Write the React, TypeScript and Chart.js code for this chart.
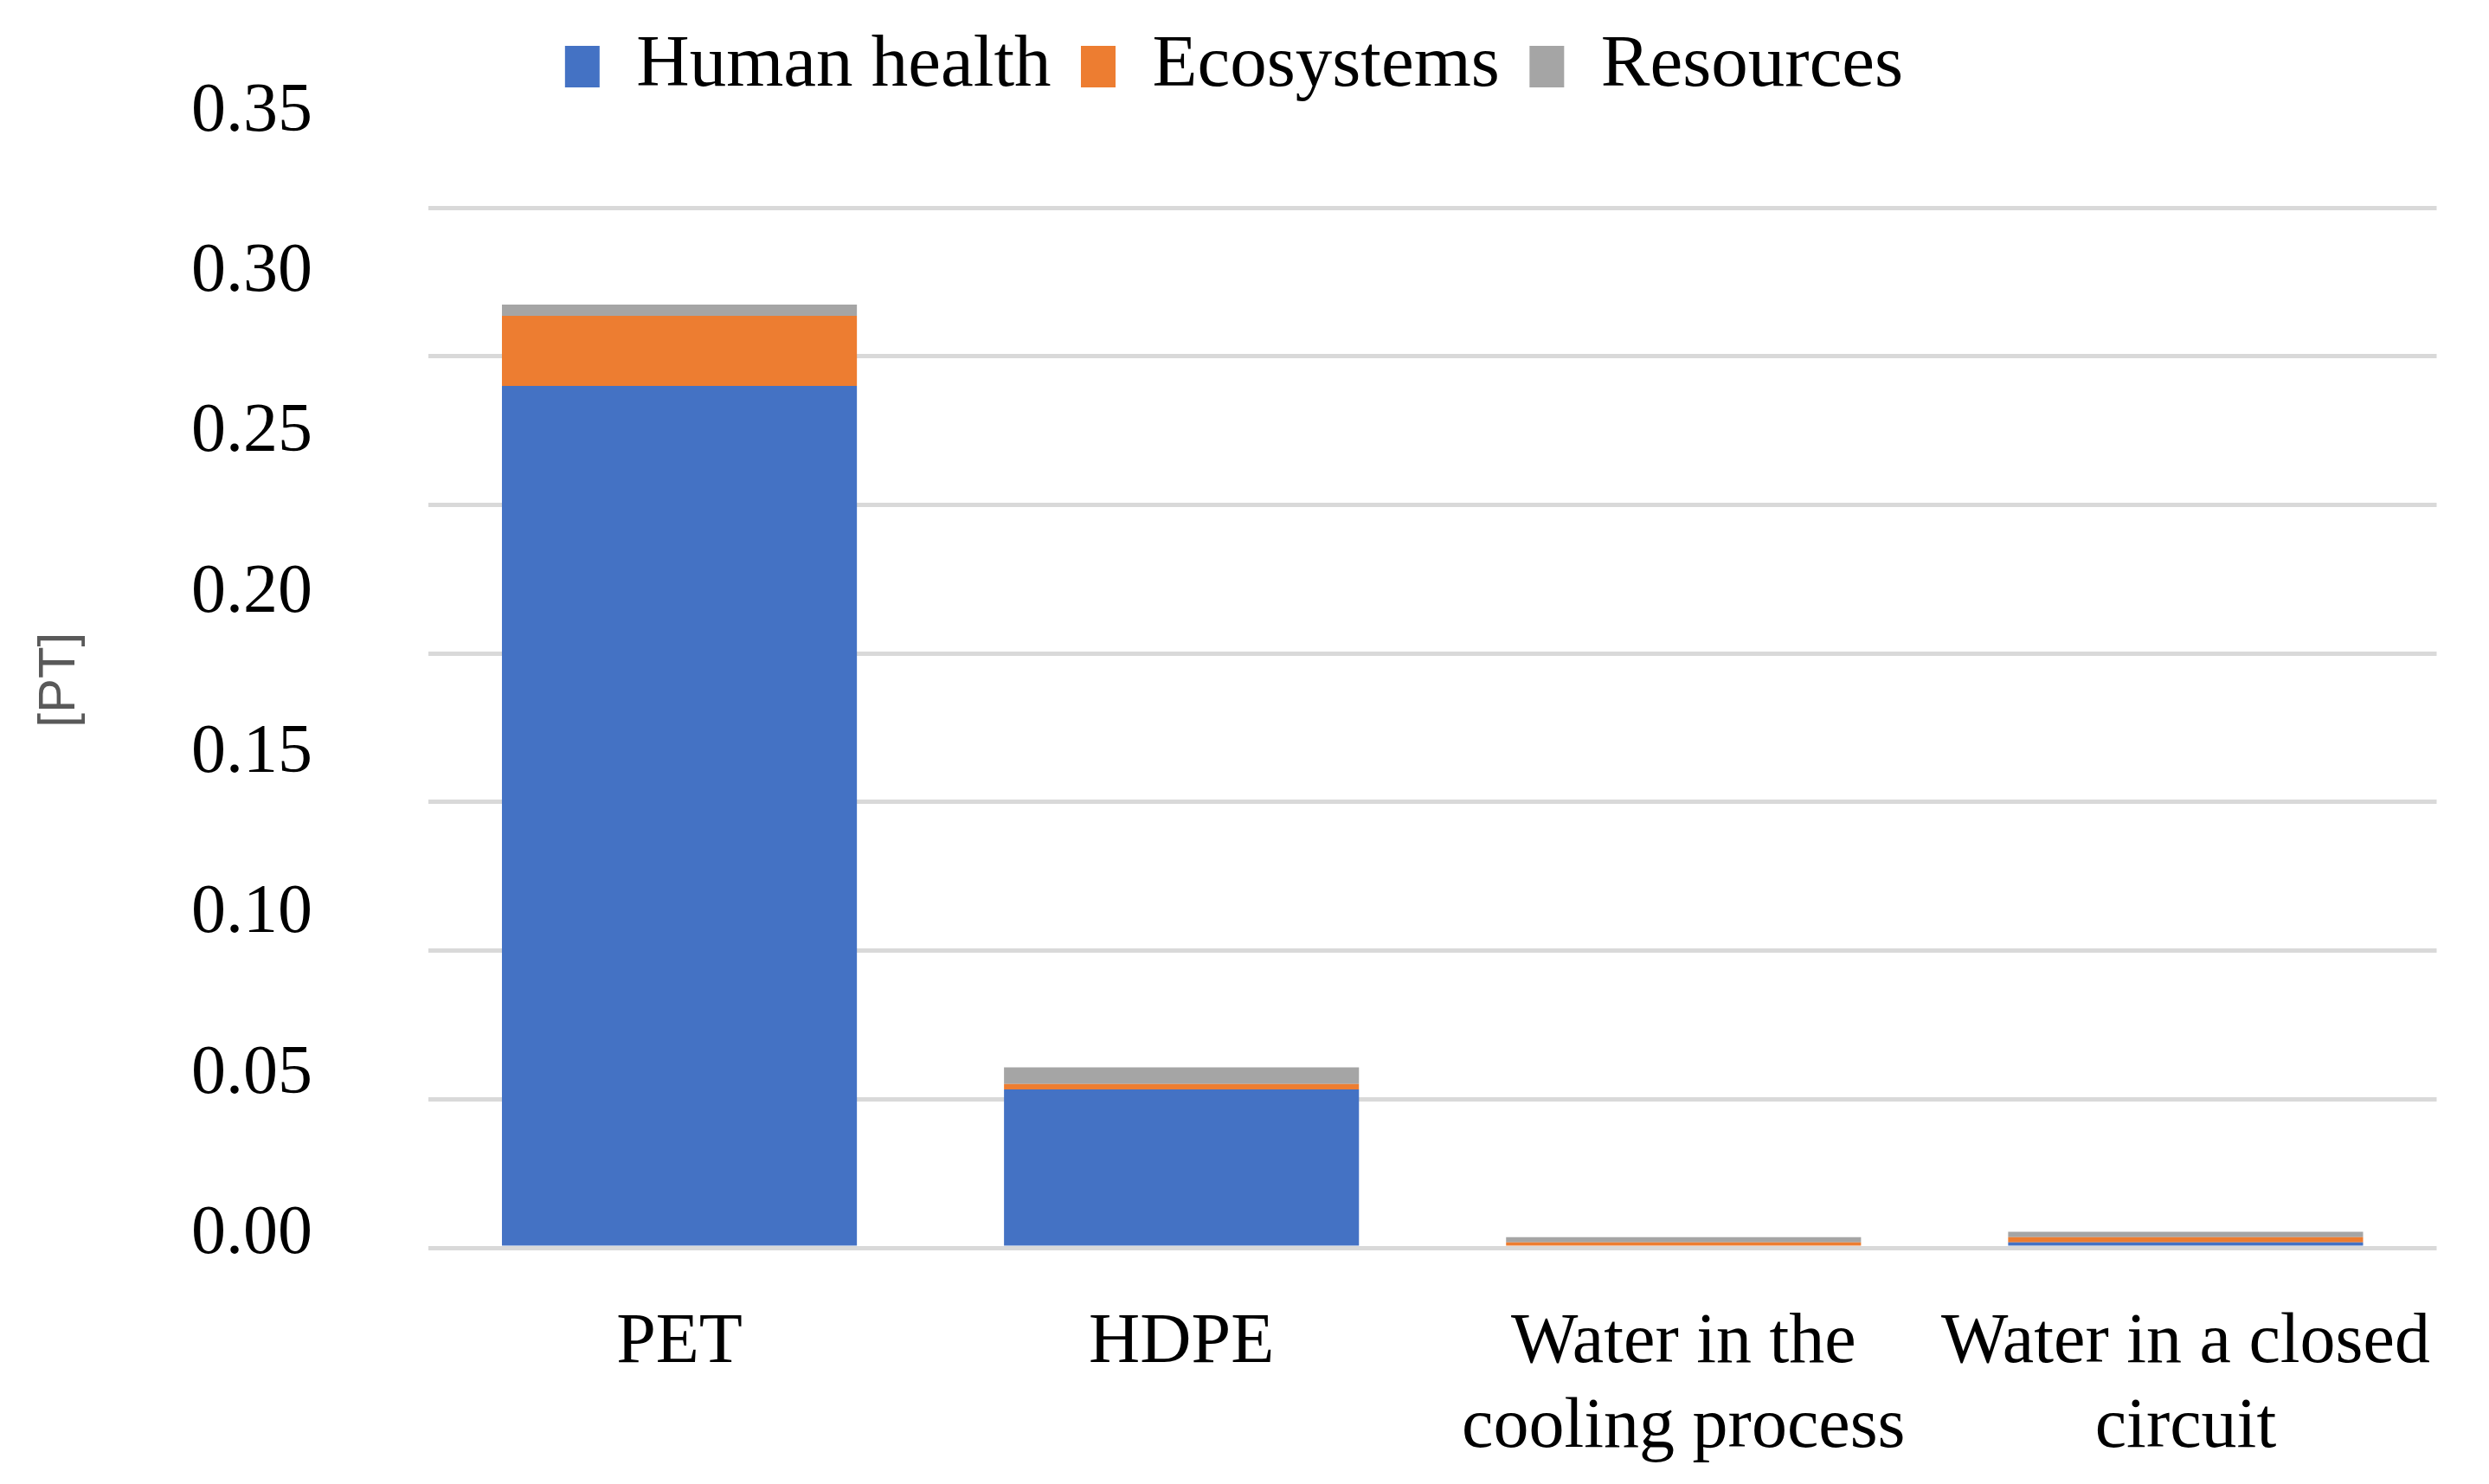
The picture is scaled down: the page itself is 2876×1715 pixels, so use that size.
import React, { useEffect, useRef } from "react";
import { Chart, registerables } from "chart.js";

Chart.register(...registerables);

// ---- data ----
const CATEGORIES: (string | string[])[] = [
  "PET",
  "HDPE",
  ["Water in the", "cooling process"],
  ["Water in a closed", "circuit"],
];
const SERIES_NAMES = ["Human health", "Ecosystems", "Resources"];
const HUMAN_HEALTH = [0.29, 0.0533, 0, 0.0018];
const ECOSYSTEMS = [0.0236, 0.0018, 0.0018, 0.0018];
const RESOURCES = [0.0038, 0.0056, 0.0018, 0.0018];
const TICK_VALUES = [0, 0.05, 0.1, 0.15, 0.2, 0.25, 0.3, 0.35];
const AXIS_TITLE = "[PT]";

const COLORS = ["#4472C4", "#ED7D31", "#A5A5A5"];

export default function App() {
  const ref = useRef<HTMLCanvasElement>(null);

  useEffect(() => {
    const canvas = ref.current!;
    const serif = "'Liberation Serif', 'Times New Roman', serif";
    const chart = new Chart(canvas, {
      type: "bar",
      data: {
        labels: CATEGORIES as any,
        datasets: [
          { label: SERIES_NAMES[0], data: HUMAN_HEALTH, backgroundColor: COLORS[0], yAxisID: "y" },
          { label: SERIES_NAMES[1], data: ECOSYSTEMS, backgroundColor: COLORS[1], yAxisID: "y" },
          { label: SERIES_NAMES[2], data: RESOURCES, backgroundColor: COLORS[2], yAxisID: "y" },
        ],
      },
      options: {
        responsive: false,
        animation: false,
        devicePixelRatio: 1,
        layout: { padding: { top: 0, left: 33, right: 57, bottom: 0 } },
        datasets: { bar: { barPercentage: 0.707, categoryPercentage: 1 } },
        plugins: {
          legend: {
            position: "top",
            labels: {
              font: { family: serif, size: 85 },
              color: "#000000",
              boxWidth: 40,
              boxHeight: 48,
              padding: 34.5,
            },
          },
          tooltip: { enabled: false },
        },
        scales: {
          x: {
            stacked: true,
            grid: { display: false, drawTicks: false },
            border: { display: false },
            ticks: {
              font: { family: serif, size: 82 },
              color: "#000000",
              padding: 61,
              maxRotation: 0,
              autoSkip: false,
            },
            afterFit: (a: any) => {
              a.height = 273;
            },
          },
          // value axis: gridlines only (spacer between tick labels and plot)
          y: {
            stacked: true,
            position: "left",
            weight: 0,
            min: 0,
            max: 0.3822,
            grid: { color: "#d9d9d9", lineWidth: 5, drawTicks: false },
            border: { display: false },
            ticks: { display: false },
            afterBuildTicks: (a: any) => {
              a.ticks = TICK_VALUES.map((v) => ({ value: v }));
            },
            afterFit: (a: any) => {
              a.width = 134;
            },
          },
          // label axis: tick labels and axis title, as placed in the source figure
          y2: {
            position: "left",
            weight: 1,
            min: -0.00405,
            max: 0.35,
            grid: { display: false, drawTicks: false },
            border: { display: false },
            ticks: {
              font: { family: serif, size: 80 },
              color: "#000000",
              padding: 0,
              callback: (v: any) => Number(v).toFixed(2),
            },
            afterBuildTicks: (a: any) => {
              a.ticks = TICK_VALUES.map((v) => ({ value: v }));
            },
            title: {
              display: true,
              text: AXIS_TITLE,
              color: "#595959",
              font: { family: "'Liberation Sans', Arial, sans-serif", size: 60 },
              padding: { top: 0, bottom: 0 },
            },
            afterFit: (a: any) => {
              a.width = 328;
            },
          },
        },
      } as any,
    });
    return () => chart.destroy();
  }, []);

  return (
    <canvas
      ref={ref}
      width={2876}
      height={1715}
      style={{ position: "fixed", left: 0, top: 0, display: "block" }}
    />
  );
}
